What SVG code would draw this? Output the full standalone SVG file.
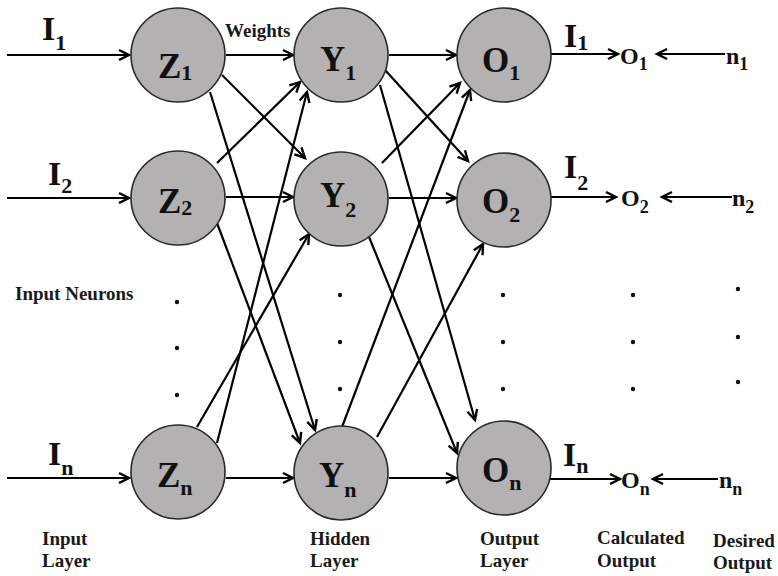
<svg xmlns="http://www.w3.org/2000/svg" width="778" height="576" viewBox="0 0 778 576">
<style>
.bg{fill:#ffffff}
.node{fill:#b3b1b1;stroke:#2a2a2a;stroke-width:1.6}
text{font-family:'Liberation Serif','DejaVu Serif','Times New Roman',serif;font-weight:bold;fill:#111}
.big{font-size:35px}
.sub{font-size:22px}
.io{font-size:34px}
.out{font-size:24px}
.osub{font-size:18px}
.lbl{font-size:19px;fill:#1a1a1a}
.wire{stroke:#000;stroke-width:2.2;fill:none;marker-end:url(#arr)}
.dot{fill:#111}
</style>
<defs>
<marker id="arr" markerUnits="userSpaceOnUse" markerWidth="16" markerHeight="16" refX="13" refY="8" orient="auto">
<path d="M3,3 L13,8 L3,13" fill="none" stroke="#000" stroke-width="2.4"/>
</marker>
</defs>
<rect class="bg" x="0" y="0" width="778" height="576"/>

<g id="connectors">
<line class="wire" x1="7" y1="55" x2="129" y2="55"/>
<line class="wire" x1="7" y1="198" x2="129" y2="198"/>
<line class="wire" x1="7" y1="478" x2="129" y2="478"/>

<line class="wire" x1="226" y1="55" x2="293" y2="55"/>
<line class="wire" x1="222" y1="75" x2="305" y2="158"/>
<line class="wire" x1="210" y1="92" x2="315" y2="430"/>
<line class="wire" x1="217" y1="163" x2="300" y2="82"/>
<line class="wire" x1="226" y1="197" x2="293" y2="197"/>
<line class="wire" x1="217" y1="223" x2="300" y2="443"/>
<line class="wire" x1="217" y1="443" x2="307" y2="92"/>
<line class="wire" x1="197" y1="427" x2="309" y2="234"/>
<line class="wire" x1="226" y1="478" x2="293" y2="478"/>

<line class="wire" x1="389" y1="55" x2="456" y2="55"/>
<line class="wire" x1="385" y1="70" x2="468" y2="161"/>
<line class="wire" x1="380" y1="85" x2="475" y2="420"/>
<line class="wire" x1="382" y1="163" x2="460" y2="83"/>
<line class="wire" x1="389" y1="198" x2="456" y2="198"/>
<line class="wire" x1="367" y1="232" x2="457" y2="453"/>
<line class="wire" x1="342" y1="427" x2="470" y2="90"/>
<line class="wire" x1="377" y1="437" x2="483" y2="244"/>
<line class="wire" x1="389" y1="478" x2="456" y2="478"/>

<line class="wire" x1="551" y1="54" x2="618" y2="54"/>
<line class="wire" x1="725" y1="54" x2="657" y2="54"/>
<line class="wire" x1="551" y1="197" x2="616" y2="197"/>
<line class="wire" x1="732" y1="197" x2="662" y2="197"/>
<line class="wire" x1="549" y1="479" x2="620" y2="479"/>
<line class="wire" x1="718" y1="479" x2="653" y2="479"/>
</g>

<g id="Z1"><circle class="node" cx="178" cy="55" r="47"/><text class="big" x="158" y="78">Z<tspan class="sub" dy="2">1</tspan></text></g>
<g id="Z2"><circle class="node" cx="178" cy="198" r="47"/><text class="big" x="158" y="213">Z<tspan class="sub" dy="2">2</tspan></text></g>
<g id="Zn"><circle class="node" cx="178" cy="472" r="47"/><text class="big" x="157" y="487">Z<tspan class="sub" dy="8">n</tspan></text></g>

<g id="Y1"><circle class="node" cx="341" cy="55" r="47"/><text class="big" x="320" y="71">Y<tspan class="sub" dy="9">1</tspan></text></g>
<g id="Y2"><circle class="node" cx="341" cy="199" r="47"/><text class="big" x="320" y="207">Y<tspan class="sub" dy="10">2</tspan></text></g>
<g id="Yn"><circle class="node" cx="341" cy="473" r="47"/><text class="big" x="319" y="487">Y<tspan class="sub" dy="10">n</tspan></text></g>

<g id="O1"><circle class="node" cx="504" cy="55" r="47"/><text class="big" x="482" y="72">O<tspan class="sub" dy="8">1</tspan></text></g>
<g id="O2"><circle class="node" cx="504" cy="200" r="47"/><text class="big" x="482" y="213">O<tspan class="sub" dy="9">2</tspan></text></g>
<g id="On"><circle class="node" cx="504" cy="468" r="47"/><text class="big" x="482" y="482">O<tspan class="sub" dy="8">n</tspan></text></g>

<g id="inputs">
<text class="io" x="42" y="40">I<tspan class="sub" dy="10">1</tspan></text>
<text class="io" x="48" y="185">I<tspan class="sub" dy="8">2</tspan></text>
<text class="io" x="48" y="465">I<tspan class="sub" dy="10">n</tspan></text>
</g>

<g id="out-I">
<text class="io" x="564" y="47">I<tspan class="sub" dy="3">1</tspan></text>
<text class="io" x="564" y="178">I<tspan class="sub" dy="12">2</tspan></text>
<text class="io" x="563" y="466">I<tspan class="sub" dy="7">n</tspan></text>
</g>

<g id="calc-O1"><text class="out" x="620" y="64">O<tspan class="osub" dy="6">1</tspan></text></g>
<g id="calc-O2"><text class="out" x="621" y="206">O<tspan class="osub" dy="7">2</tspan></text></g>
<g id="calc-On"><text class="out" x="621" y="488">O<tspan class="osub" dy="7">n</tspan></text></g>

<g id="des-n1"><text class="out" x="726" y="64">n<tspan class="osub" dy="6">1</tspan></text></g>
<g id="des-n2"><text class="out" x="732" y="206">n<tspan class="osub" dy="7">2</tspan></text></g>
<g id="des-nn"><text class="out" x="719" y="488">n<tspan class="osub" dy="7">n</tspan></text></g>

<g id="labels">
<text class="lbl" x="225" y="37">Weights</text>
<text class="lbl" x="15" y="300">Input Neurons</text>
<text class="lbl" x="42" y="545">Input</text>
<text class="lbl" x="42" y="567">Layer</text>
<text class="lbl" x="310" y="545">Hidden</text>
<text class="lbl" x="310" y="567">Layer</text>
<text class="lbl" x="480" y="545">Output</text>
<text class="lbl" x="480" y="567">Layer</text>
<text class="lbl" x="597" y="544">Calculated</text>
<text class="lbl" x="597" y="567">Output</text>
<text class="lbl" x="713" y="547">Desired</text>
<text class="lbl" x="713" y="569">Output</text>
</g>

<g id="dots">
<circle class="dot" cx="177" cy="302" r="2.2"/>
<circle class="dot" cx="177" cy="348" r="2.2"/>
<circle class="dot" cx="177" cy="395" r="2.2"/>
<circle class="dot" cx="340" cy="295" r="2.2"/>
<circle class="dot" cx="340" cy="342" r="2.2"/>
<circle class="dot" cx="340" cy="389" r="2.2"/>
<circle class="dot" cx="503" cy="295" r="2.2"/>
<circle class="dot" cx="503" cy="342" r="2.2"/>
<circle class="dot" cx="503" cy="389" r="2.2"/>
<circle class="dot" cx="633" cy="295" r="2.2"/>
<circle class="dot" cx="633" cy="342" r="2.2"/>
<circle class="dot" cx="633" cy="389" r="2.2"/>
<circle class="dot" cx="738" cy="289" r="2.2"/>
<circle class="dot" cx="738" cy="337" r="2.2"/>
<circle class="dot" cx="738" cy="382" r="2.2"/>
</g>
</svg>
